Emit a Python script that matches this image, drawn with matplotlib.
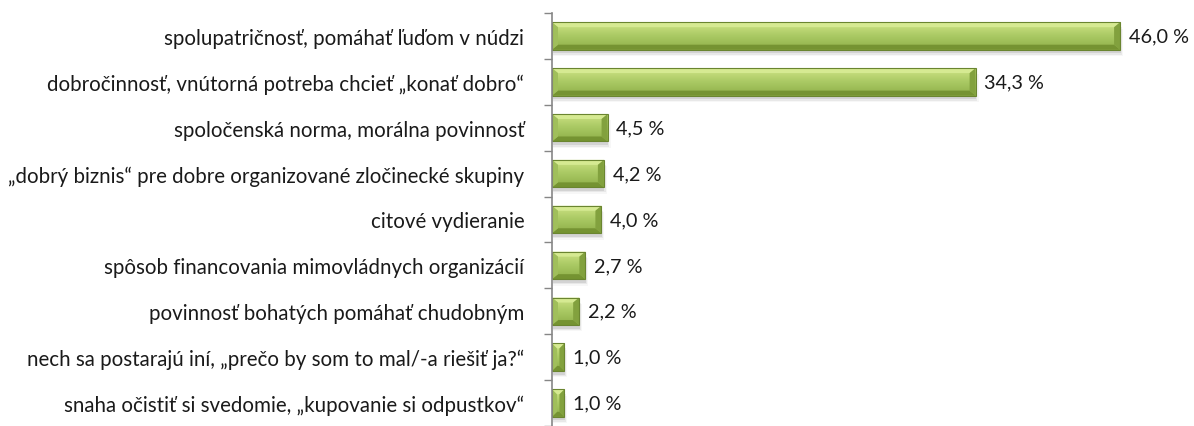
import matplotlib.pyplot as plt
import numpy as np
from matplotlib.patches import Polygon, Rectangle
from matplotlib.colors import LinearSegmentedColormap

categories = [
    "spolupatričnosť, pomáhať ľuďom v núdzi",
    "dobročinnosť, vnútorná potreba chcieť „konať dobro“",
    "spoločenská norma, morálna povinnosť",
    "„dobrý biznis“ pre dobre organizované zločinecké skupiny",
    "citové vydieranie",
    "spôsob financovania mimovládnych organizácií",
    "povinnosť bohatých pomáhať chudobným",
    "nech sa postarajú iní, „prečo by som to mal/-a riešiť ja?“",
    "snaha očistiť si svedomie, „kupovanie si odpustkov“",
]
values = [46.0, 34.3, 4.5, 4.2, 4.0, 2.7, 2.2, 1.0, 1.0]
value_labels = ["46,0 %", "34,3 %", "4,5 %", "4,2 %", "4,0 %", "2,7 %", "2,2 %", "1,0 %", "1,0 %"]

plt.rcParams['font.family'] = ['Lato', 'DejaVu Sans']

W, H = 1194, 427
fig = plt.figure(figsize=(W / 100, H / 100), dpi=100)
ax_left, ax_top, ax_bottom = 552, 14, 427
px_per_unit = 12.35
xmax = 50
ax = fig.add_axes([ax_left / W, 1 - ax_bottom / H, xmax * px_per_unit / W, (ax_bottom - ax_top) / H])

n = len(categories)
ypos = np.arange(n)
bar_h = 0.6
bars = ax.barh(ypos, values, height=bar_h, color="#9bbb59", edgecolor="none", zorder=2)
ax.set_xlim(0, xmax)
ax.set_ylim(n - 0.5, -0.5)

# bevel size in data units
bx = 6 / px_per_unit
by = 5 / ((ax_bottom - ax_top) / n)

grad = LinearSegmentedColormap.from_list("g", ["#cfe486", "#a9c963", "#8fae49"])
for b in bars:
    x0, y0 = b.get_x(), b.get_y()
    x1, y1 = x0 + b.get_width(), y0 + b.get_height()
    # soft shadow under the bar
    for k, a in enumerate([0.09, 0.06, 0.03]):
        sh = Rectangle((x0 + 0.05, y0 + 0.08 + 0.03 * k), b.get_width() + 0.1 * k, b.get_height(),
                       color="black", alpha=a, lw=0, zorder=1)
        ax.add_patch(sh)
    b.set_visible(False)
    # face gradient
    img = np.linspace(0, 1, 50).reshape(-1, 1)
    im = ax.imshow(img, cmap=grad, aspect="auto", extent=(x0, x1, y1, y0), zorder=2)
    clip = Rectangle((x0, y0), x1 - x0, y1 - y0, transform=ax.transData)
    im.set_clip_path(clip)
    ix0, ix1 = x0 + min(bx, (x1 - x0) / 2.5), x1 - min(bx, (x1 - x0) / 2.5)
    iy0, iy1 = y0 + by, y1 - by
    # top, bottom, left, right bevel strips
    ax.add_patch(Polygon([(x0, y0), (x1, y0), (ix1, iy0), (ix0, iy0)], color="#d8ec95", lw=0, zorder=3, alpha=0.9))
    ax.add_patch(Polygon([(x0, y1), (x1, y1), (ix1, iy1), (ix0, iy1)], color="#72902f", lw=0, zorder=3, alpha=0.9))
    ax.add_patch(Polygon([(x0, y0), (ix0, iy0), (ix0, iy1), (x0, y1)], color="#a0bf5b", lw=0, zorder=3))
    ax.add_patch(Polygon([(x1, y0), (ix1, iy0), (ix1, iy1), (x1, y1)], color="#82a13e", lw=0, zorder=3))
    ax.add_patch(Rectangle((x0, y0), x1 - x0, y1 - y0, fill=False, ec="#6a8530", lw=0.8, zorder=4))

for y, v, lab in zip(ypos, values, value_labels):
    ax.text(v + 0.7, y, lab, va="center", ha="left", fontsize=14.3, color="#1a1a1a")

ax.set_yticks(ypos)
ax.set_yticklabels(categories, fontsize=14.8, color="#1a1a1a")
ax.set_yticks(np.arange(-0.5, n, 1), minor=True)
ax.tick_params(axis="y", which="major", length=0, pad=20)
ax.tick_params(axis="y", which="minor", length=6, color="#868686", width=1)
ax.set_xticks([])
for s in ["top", "right", "bottom"]:
    ax.spines[s].set_visible(False)
ax.spines["left"].set_color("#868686")
ax.spines["left"].set_linewidth(1.2)
ax.spines["left"].set_zorder(5)

fig.savefig("out.png", dpi=100)
